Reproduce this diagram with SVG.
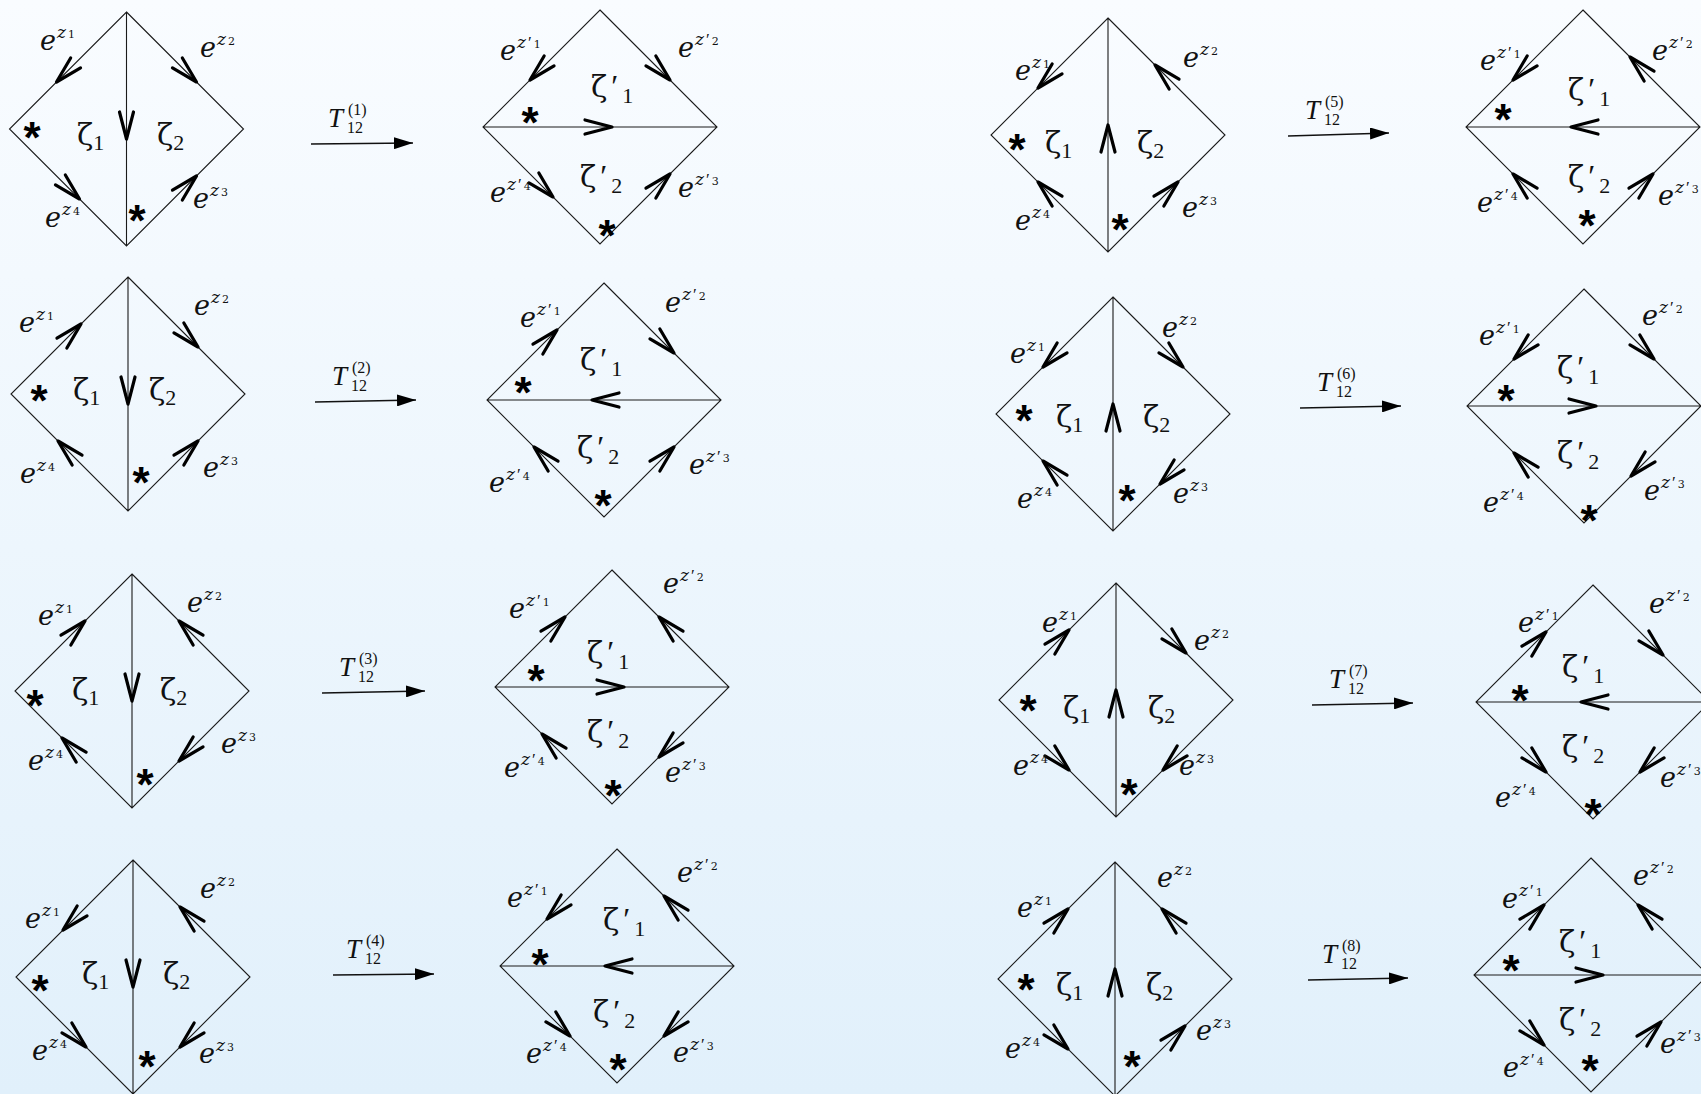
<svg xmlns="http://www.w3.org/2000/svg" xmlns:xlink="http://www.w3.org/1999/xlink" width="1701" height="1094" viewBox="0 0 1701 1094">
<style>
.edge{fill:none;stroke:#1a1a1a;stroke-width:1.1}
.ch{fill:none;stroke:#000;stroke-width:3.2;stroke-linejoin:round;stroke-linecap:round}
.conn{stroke:#111;stroke-width:1.4;fill:none}
.e{font-family:"DejaVu Serif",serif;font-style:italic;font-size:27px;fill:#111}
.zs{font-size:17px}
.ds{font-size:11px;font-style:normal}
.pp{font-family:"Liberation Serif",serif;font-style:normal;font-size:17px}
.zeta{font-family:"DejaVu Serif",serif;font-size:30px;fill:#111}
.zsub{font-family:"Liberation Serif",serif;font-size:22px}
.pr{font-family:"Liberation Serif",serif;font-size:32px}
.ast{font-family:"Liberation Sans",sans-serif;font-weight:bold;font-size:44px;text-anchor:middle;fill:#000}
.T{font-family:"Liberation Serif",serif;font-style:italic;font-size:27px;fill:#111}
.Tn{font-family:"Liberation Serif",serif;font-style:normal;font-size:16px}
</style>
<defs>
<linearGradient id="bg" x1="0" y1="0" x2="0" y2="1">
<stop offset="0" stop-color="#f9fcff"/>
<stop offset="1" stop-color="#e1f0fb"/>
</linearGradient>
<marker id="ah" markerUnits="userSpaceOnUse" markerWidth="20" markerHeight="12" refX="19" refY="6" orient="auto">
<path d="M0,0 L19,6 L0,12 Z" fill="#000"/>
</marker>
<path id="src" class="edge" d="M0,-117 L117,0 L0,117 L-117,0 Z M0,-117 V117"/>
<path id="res" class="edge" d="M0,-117 L117,0 L0,117 L-117,0 Z M-117,0 H117"/>
<path id="ch" class="ch" d="M-27,-7 L0,0 L-27,7"/>
</defs>
<rect x="0" y="0" width="1701" height="1094" fill="url(#bg)"/>

<!-- A1 -->
<g id="A1">
<g transform="translate(126.5,129)">
<use href="#src"/>
<use href="#ch" transform="translate(-70,-47) rotate(135)"/>
<use href="#ch" transform="translate(70,-47) rotate(45)"/>
<use href="#ch" transform="translate(-47,70) rotate(45)"/>
<use href="#ch" transform="translate(70,47) rotate(-45)"/>
<use href="#ch" transform="translate(0,10) rotate(90)"/>
</g>
<text class="e" x="40" y="50">e<tspan class="zs" dx="1" dy="-12">z</tspan><tspan class="ds" dx="2">1</tspan></text>
<text class="e" x="200" y="57">e<tspan class="zs" dx="1" dy="-12">z</tspan><tspan class="ds" dx="2">2</tspan></text>
<text class="e" x="45" y="227">e<tspan class="zs" dx="1" dy="-12">z</tspan><tspan class="ds" dx="2">4</tspan></text>
<text class="e" x="193" y="208">e<tspan class="zs" dx="1" dy="-12">z</tspan><tspan class="ds" dx="2">3</tspan></text>
<text class="zeta" x="77" y="145">ζ<tspan class="zsub" dy="5">1</tspan></text>
<text class="zeta" x="157" y="145">ζ<tspan class="zsub" dy="5">2</tspan></text>
<text class="ast" x="32" y="153">*</text>
<text class="ast" x="137" y="236">*</text>
</g>

<!-- B1 -->
<g id="B1">
<g transform="translate(600,127)">
<use href="#res"/>
<use href="#ch" transform="translate(-70,-47) rotate(135)"/>
<use href="#ch" transform="translate(70,-47) rotate(45)"/>
<use href="#ch" transform="translate(-47,70) rotate(45)"/>
<use href="#ch" transform="translate(70,47) rotate(-45)"/>
<use href="#ch" transform="translate(12,0)"/>
</g>
<text class="e" x="500" y="60">e<tspan class="zs" dx="1" dy="-12">z</tspan><tspan class="pp" dx="2">′</tspan><tspan class="ds" dx="2">1</tspan></text>
<text class="e" x="678" y="57">e<tspan class="zs" dx="1" dy="-12">z</tspan><tspan class="pp" dx="2">′</tspan><tspan class="ds" dx="2">2</tspan></text>
<text class="e" x="490" y="202">e<tspan class="zs" dx="1" dy="-12">z</tspan><tspan class="pp" dx="2">′</tspan><tspan class="ds" dx="2">4</tspan></text>
<text class="e" x="678" y="197">e<tspan class="zs" dx="1" dy="-12">z</tspan><tspan class="pp" dx="2">′</tspan><tspan class="ds" dx="2">3</tspan></text>
<text class="zeta" x="591" y="97">ζ<tspan class="pr" dx="4">′</tspan><tspan class="zsub" dx="4" dy="6">1</tspan></text>
<text class="zeta" x="580" y="187">ζ<tspan class="pr" dx="4">′</tspan><tspan class="zsub" dx="4" dy="6">2</tspan></text>
<text class="ast" x="530" y="138">*</text>
<text class="ast" x="607" y="251">*</text>
</g>

<!-- A2 -->
<g id="A2">
<g transform="translate(128,394)">
<use href="#src"/>
<use href="#ch" transform="translate(-47,-70) rotate(-45)"/>
<use href="#ch" transform="translate(70,-47) rotate(45)"/>
<use href="#ch" transform="translate(-70,47) rotate(-135)"/>
<use href="#ch" transform="translate(70,47) rotate(-45)"/>
<use href="#ch" transform="translate(0,10) rotate(90)"/>
</g>
<text class="e" x="19" y="332">e<tspan class="zs" dx="1" dy="-12">z</tspan><tspan class="ds" dx="2">1</tspan></text>
<text class="e" x="194" y="315">e<tspan class="zs" dx="1" dy="-12">z</tspan><tspan class="ds" dx="2">2</tspan></text>
<text class="e" x="20" y="483">e<tspan class="zs" dx="1" dy="-12">z</tspan><tspan class="ds" dx="2">4</tspan></text>
<text class="e" x="203" y="477">e<tspan class="zs" dx="1" dy="-12">z</tspan><tspan class="ds" dx="2">3</tspan></text>
<text class="zeta" x="73" y="400">ζ<tspan class="zsub" dy="5">1</tspan></text>
<text class="zeta" x="149" y="400">ζ<tspan class="zsub" dy="5">2</tspan></text>
<text class="ast" x="39" y="416">*</text>
<text class="ast" x="141" y="498">*</text>
</g>

<!-- B2 -->
<g id="B2">
<g transform="translate(604,400)">
<use href="#res"/>
<use href="#ch" transform="translate(-47,-70) rotate(-45)"/>
<use href="#ch" transform="translate(70,-47) rotate(45)"/>
<use href="#ch" transform="translate(-70,47) rotate(-135)"/>
<use href="#ch" transform="translate(70,47) rotate(-45)"/>
<use href="#ch" transform="translate(-12,0) rotate(180)"/>
</g>
<text class="e" x="520" y="327">e<tspan class="zs" dx="1" dy="-12">z</tspan><tspan class="pp" dx="2">′</tspan><tspan class="ds" dx="2">1</tspan></text>
<text class="e" x="665" y="312">e<tspan class="zs" dx="1" dy="-12">z</tspan><tspan class="pp" dx="2">′</tspan><tspan class="ds" dx="2">2</tspan></text>
<text class="e" x="489" y="492">e<tspan class="zs" dx="1" dy="-12">z</tspan><tspan class="pp" dx="2">′</tspan><tspan class="ds" dx="2">4</tspan></text>
<text class="e" x="689" y="474">e<tspan class="zs" dx="1" dy="-12">z</tspan><tspan class="pp" dx="2">′</tspan><tspan class="ds" dx="2">3</tspan></text>
<text class="zeta" x="580" y="370">ζ<tspan class="pr" dx="4">′</tspan><tspan class="zsub" dx="4" dy="6">1</tspan></text>
<text class="zeta" x="577" y="458">ζ<tspan class="pr" dx="4">′</tspan><tspan class="zsub" dx="4" dy="6">2</tspan></text>
<text class="ast" x="523" y="408">*</text>
<text class="ast" x="603" y="521">*</text>
</g>

<!-- A3 -->
<g id="A3">
<g transform="translate(132,691)">
<use href="#src"/>
<use href="#ch" transform="translate(-47,-70) rotate(-45)"/>
<use href="#ch" transform="translate(47,-70) rotate(-135)"/>
<use href="#ch" transform="translate(-70,47) rotate(-135)"/>
<use href="#ch" transform="translate(47,70) rotate(135)"/>
<use href="#ch" transform="translate(0,10) rotate(90)"/>
</g>
<text class="e" x="38" y="625">e<tspan class="zs" dx="1" dy="-12">z</tspan><tspan class="ds" dx="2">1</tspan></text>
<text class="e" x="187" y="612">e<tspan class="zs" dx="1" dy="-12">z</tspan><tspan class="ds" dx="2">2</tspan></text>
<text class="e" x="28" y="770">e<tspan class="zs" dx="1" dy="-12">z</tspan><tspan class="ds" dx="2">4</tspan></text>
<text class="e" x="221" y="753">e<tspan class="zs" dx="1" dy="-12">z</tspan><tspan class="ds" dx="2">3</tspan></text>
<text class="zeta" x="72" y="700">ζ<tspan class="zsub" dy="5">1</tspan></text>
<text class="zeta" x="160" y="700">ζ<tspan class="zsub" dy="5">2</tspan></text>
<text class="ast" x="35" y="721">*</text>
<text class="ast" x="145" y="800">*</text>
</g>

<!-- B3 -->
<g id="B3">
<g transform="translate(612,687)">
<use href="#res"/>
<use href="#ch" transform="translate(-47,-70) rotate(-45)"/>
<use href="#ch" transform="translate(47,-70) rotate(-135)"/>
<use href="#ch" transform="translate(-70,47) rotate(-135)"/>
<use href="#ch" transform="translate(47,70) rotate(135)"/>
<use href="#ch" transform="translate(12,0)"/>
</g>
<text class="e" x="509" y="618">e<tspan class="zs" dx="1" dy="-12">z</tspan><tspan class="pp" dx="2">′</tspan><tspan class="ds" dx="2">1</tspan></text>
<text class="e" x="663" y="593">e<tspan class="zs" dx="1" dy="-12">z</tspan><tspan class="pp" dx="2">′</tspan><tspan class="ds" dx="2">2</tspan></text>
<text class="e" x="504" y="777">e<tspan class="zs" dx="1" dy="-12">z</tspan><tspan class="pp" dx="2">′</tspan><tspan class="ds" dx="2">4</tspan></text>
<text class="e" x="665" y="782">e<tspan class="zs" dx="1" dy="-12">z</tspan><tspan class="pp" dx="2">′</tspan><tspan class="ds" dx="2">3</tspan></text>
<text class="zeta" x="587" y="663">ζ<tspan class="pr" dx="4">′</tspan><tspan class="zsub" dx="4" dy="6">1</tspan></text>
<text class="zeta" x="587" y="742">ζ<tspan class="pr" dx="4">′</tspan><tspan class="zsub" dx="4" dy="6">2</tspan></text>
<text class="ast" x="536" y="696">*</text>
<text class="ast" x="613" y="811">*</text>
</g>

<!-- A4 -->
<g id="A4">
<g transform="translate(133,977)">
<use href="#src"/>
<use href="#ch" transform="translate(-70,-47) rotate(135)"/>
<use href="#ch" transform="translate(47,-70) rotate(-135)"/>
<use href="#ch" transform="translate(-47,70) rotate(45)"/>
<use href="#ch" transform="translate(47,70) rotate(135)"/>
<use href="#ch" transform="translate(0,10) rotate(90)"/>
</g>
<text class="e" x="25" y="928">e<tspan class="zs" dx="1" dy="-12">z</tspan><tspan class="ds" dx="2">1</tspan></text>
<text class="e" x="200" y="898">e<tspan class="zs" dx="1" dy="-12">z</tspan><tspan class="ds" dx="2">2</tspan></text>
<text class="e" x="32" y="1060">e<tspan class="zs" dx="1" dy="-12">z</tspan><tspan class="ds" dx="2">4</tspan></text>
<text class="e" x="199" y="1063">e<tspan class="zs" dx="1" dy="-12">z</tspan><tspan class="ds" dx="2">3</tspan></text>
<text class="zeta" x="82" y="984">ζ<tspan class="zsub" dy="5">1</tspan></text>
<text class="zeta" x="163" y="984">ζ<tspan class="zsub" dy="5">2</tspan></text>
<text class="ast" x="40" y="1006">*</text>
<text class="ast" x="147" y="1082">*</text>
</g>

<!-- B4 -->
<g id="B4">
<g transform="translate(617,966)">
<use href="#res"/>
<use href="#ch" transform="translate(-70,-47) rotate(135)"/>
<use href="#ch" transform="translate(47,-70) rotate(-135)"/>
<use href="#ch" transform="translate(-47,70) rotate(45)"/>
<use href="#ch" transform="translate(47,70) rotate(135)"/>
<use href="#ch" transform="translate(-12,0) rotate(180)"/>
</g>
<text class="e" x="507" y="907">e<tspan class="zs" dx="1" dy="-12">z</tspan><tspan class="pp" dx="2">′</tspan><tspan class="ds" dx="2">1</tspan></text>
<text class="e" x="677" y="882">e<tspan class="zs" dx="1" dy="-12">z</tspan><tspan class="pp" dx="2">′</tspan><tspan class="ds" dx="2">2</tspan></text>
<text class="e" x="526" y="1063">e<tspan class="zs" dx="1" dy="-12">z</tspan><tspan class="pp" dx="2">′</tspan><tspan class="ds" dx="2">4</tspan></text>
<text class="e" x="673" y="1062">e<tspan class="zs" dx="1" dy="-12">z</tspan><tspan class="pp" dx="2">′</tspan><tspan class="ds" dx="2">3</tspan></text>
<text class="zeta" x="603" y="930">ζ<tspan class="pr" dx="4">′</tspan><tspan class="zsub" dx="4" dy="6">1</tspan></text>
<text class="zeta" x="593" y="1022">ζ<tspan class="pr" dx="4">′</tspan><tspan class="zsub" dx="4" dy="6">2</tspan></text>
<text class="ast" x="540" y="980">*</text>
<text class="ast" x="618" y="1085">*</text>
</g>

<!-- C1 -->
<g id="C1">
<g transform="translate(1108,135)">
<use href="#src"/>
<use href="#ch" transform="translate(-70,-47) rotate(135)"/>
<use href="#ch" transform="translate(47,-70) rotate(-135)"/>
<use href="#ch" transform="translate(-70,47) rotate(-135)"/>
<use href="#ch" transform="translate(70,47) rotate(-45)"/>
<use href="#ch" transform="translate(0,-10) rotate(-90)"/>
</g>
<text class="e" x="1015" y="80">e<tspan class="zs" dx="1" dy="-12">z</tspan><tspan class="ds" dx="2">1</tspan></text>
<text class="e" x="1183" y="67">e<tspan class="zs" dx="1" dy="-12">z</tspan><tspan class="ds" dx="2">2</tspan></text>
<text class="e" x="1015" y="230">e<tspan class="zs" dx="1" dy="-12">z</tspan><tspan class="ds" dx="2">4</tspan></text>
<text class="e" x="1182" y="217">e<tspan class="zs" dx="1" dy="-12">z</tspan><tspan class="ds" dx="2">3</tspan></text>
<text class="zeta" x="1045" y="153">ζ<tspan class="zsub" dy="5">1</tspan></text>
<text class="zeta" x="1137" y="153">ζ<tspan class="zsub" dy="5">2</tspan></text>
<text class="ast" x="1017" y="165">*</text>
<text class="ast" x="1120" y="245">*</text>
</g>

<!-- D1 -->
<g id="D1">
<g transform="translate(1583,127)">
<use href="#res"/>
<use href="#ch" transform="translate(-70,-47) rotate(135)"/>
<use href="#ch" transform="translate(47,-70) rotate(-135)"/>
<use href="#ch" transform="translate(-70,47) rotate(-135)"/>
<use href="#ch" transform="translate(70,47) rotate(-45)"/>
<use href="#ch" transform="translate(-12,0) rotate(180)"/>
</g>
<text class="e" x="1480" y="70">e<tspan class="zs" dx="1" dy="-12">z</tspan><tspan class="pp" dx="2">′</tspan><tspan class="ds" dx="2">1</tspan></text>
<text class="e" x="1652" y="60">e<tspan class="zs" dx="1" dy="-12">z</tspan><tspan class="pp" dx="2">′</tspan><tspan class="ds" dx="2">2</tspan></text>
<text class="e" x="1477" y="212">e<tspan class="zs" dx="1" dy="-12">z</tspan><tspan class="pp" dx="2">′</tspan><tspan class="ds" dx="2">4</tspan></text>
<text class="e" x="1658" y="205">e<tspan class="zs" dx="1" dy="-12">z</tspan><tspan class="pp" dx="2">′</tspan><tspan class="ds" dx="2">3</tspan></text>
<text class="zeta" x="1568" y="100">ζ<tspan class="pr" dx="4">′</tspan><tspan class="zsub" dx="4" dy="6">1</tspan></text>
<text class="zeta" x="1568" y="187">ζ<tspan class="pr" dx="4">′</tspan><tspan class="zsub" dx="4" dy="6">2</tspan></text>
<text class="ast" x="1503" y="135">*</text>
<text class="ast" x="1587" y="241">*</text>
</g>

<!-- C2 -->
<g id="C2">
<g transform="translate(1113,414)">
<use href="#src"/>
<use href="#ch" transform="translate(-70,-47) rotate(135)"/>
<use href="#ch" transform="translate(70,-47) rotate(45)"/>
<use href="#ch" transform="translate(-70,47) rotate(-135)"/>
<use href="#ch" transform="translate(47,70) rotate(135)"/>
<use href="#ch" transform="translate(0,-10) rotate(-90)"/>
</g>
<text class="e" x="1010" y="363">e<tspan class="zs" dx="1" dy="-12">z</tspan><tspan class="ds" dx="2">1</tspan></text>
<text class="e" x="1162" y="337">e<tspan class="zs" dx="1" dy="-12">z</tspan><tspan class="ds" dx="2">2</tspan></text>
<text class="e" x="1017" y="508">e<tspan class="zs" dx="1" dy="-12">z</tspan><tspan class="ds" dx="2">4</tspan></text>
<text class="e" x="1173" y="503">e<tspan class="zs" dx="1" dy="-12">z</tspan><tspan class="ds" dx="2">3</tspan></text>
<text class="zeta" x="1056" y="427">ζ<tspan class="zsub" dy="5">1</tspan></text>
<text class="zeta" x="1143" y="427">ζ<tspan class="zsub" dy="5">2</tspan></text>
<text class="ast" x="1024" y="436">*</text>
<text class="ast" x="1127" y="516">*</text>
</g>

<!-- D2 -->
<g id="D2">
<g transform="translate(1584,406)">
<use href="#res"/>
<use href="#ch" transform="translate(-70,-47) rotate(135)"/>
<use href="#ch" transform="translate(70,-47) rotate(45)"/>
<use href="#ch" transform="translate(-70,47) rotate(-135)"/>
<use href="#ch" transform="translate(47,70) rotate(135)"/>
<use href="#ch" transform="translate(12,0)"/>
</g>
<text class="e" x="1479" y="345">e<tspan class="zs" dx="1" dy="-12">z</tspan><tspan class="pp" dx="2">′</tspan><tspan class="ds" dx="2">1</tspan></text>
<text class="e" x="1642" y="325">e<tspan class="zs" dx="1" dy="-12">z</tspan><tspan class="pp" dx="2">′</tspan><tspan class="ds" dx="2">2</tspan></text>
<text class="e" x="1483" y="512">e<tspan class="zs" dx="1" dy="-12">z</tspan><tspan class="pp" dx="2">′</tspan><tspan class="ds" dx="2">4</tspan></text>
<text class="e" x="1644" y="500">e<tspan class="zs" dx="1" dy="-12">z</tspan><tspan class="pp" dx="2">′</tspan><tspan class="ds" dx="2">3</tspan></text>
<text class="zeta" x="1557" y="378">ζ<tspan class="pr" dx="4">′</tspan><tspan class="zsub" dx="4" dy="6">1</tspan></text>
<text class="zeta" x="1557" y="463">ζ<tspan class="pr" dx="4">′</tspan><tspan class="zsub" dx="4" dy="6">2</tspan></text>
<text class="ast" x="1506" y="416">*</text>
<text class="ast" x="1589" y="536">*</text>
</g>

<!-- C3 -->
<g id="C3">
<g transform="translate(1116,700)">
<use href="#src"/>
<use href="#ch" transform="translate(-47,-70) rotate(-45)"/>
<use href="#ch" transform="translate(70,-47) rotate(45)"/>
<use href="#ch" transform="translate(-47,70) rotate(45)"/>
<use href="#ch" transform="translate(47,70) rotate(135)"/>
<use href="#ch" transform="translate(0,-10) rotate(-90)"/>
</g>
<text class="e" x="1042" y="632">e<tspan class="zs" dx="1" dy="-12">z</tspan><tspan class="ds" dx="2">1</tspan></text>
<text class="e" x="1194" y="650">e<tspan class="zs" dx="1" dy="-12">z</tspan><tspan class="ds" dx="2">2</tspan></text>
<text class="e" x="1013" y="775">e<tspan class="zs" dx="1" dy="-12">z</tspan><tspan class="ds" dx="2">4</tspan></text>
<text class="e" x="1179" y="775">e<tspan class="zs" dx="1" dy="-12">z</tspan><tspan class="ds" dx="2">3</tspan></text>
<text class="zeta" x="1063" y="718">ζ<tspan class="zsub" dy="5">1</tspan></text>
<text class="zeta" x="1148" y="718">ζ<tspan class="zsub" dy="5">2</tspan></text>
<text class="ast" x="1028" y="726">*</text>
<text class="ast" x="1129" y="810">*</text>
</g>

<!-- D3 -->
<g id="D3">
<g transform="translate(1593,702)">
<use href="#res"/>
<use href="#ch" transform="translate(-47,-70) rotate(-45)"/>
<use href="#ch" transform="translate(70,-47) rotate(45)"/>
<use href="#ch" transform="translate(-47,70) rotate(45)"/>
<use href="#ch" transform="translate(47,70) rotate(135)"/>
<use href="#ch" transform="translate(-12,0) rotate(180)"/>
</g>
<text class="e" x="1518" y="632">e<tspan class="zs" dx="1" dy="-12">z</tspan><tspan class="pp" dx="2">′</tspan><tspan class="ds" dx="2">1</tspan></text>
<text class="e" x="1649" y="613">e<tspan class="zs" dx="1" dy="-12">z</tspan><tspan class="pp" dx="2">′</tspan><tspan class="ds" dx="2">2</tspan></text>
<text class="e" x="1495" y="807">e<tspan class="zs" dx="1" dy="-12">z</tspan><tspan class="pp" dx="2">′</tspan><tspan class="ds" dx="2">4</tspan></text>
<text class="e" x="1660" y="787">e<tspan class="zs" dx="1" dy="-12">z</tspan><tspan class="pp" dx="2">′</tspan><tspan class="ds" dx="2">3</tspan></text>
<text class="zeta" x="1562" y="677">ζ<tspan class="pr" dx="4">′</tspan><tspan class="zsub" dx="4" dy="6">1</tspan></text>
<text class="zeta" x="1562" y="757">ζ<tspan class="pr" dx="4">′</tspan><tspan class="zsub" dx="4" dy="6">2</tspan></text>
<text class="ast" x="1520" y="716">*</text>
<text class="ast" x="1593" y="830">*</text>
</g>

<!-- C4 -->
<g id="C4">
<g transform="translate(1115,979)">
<use href="#src"/>
<use href="#ch" transform="translate(-47,-70) rotate(-45)"/>
<use href="#ch" transform="translate(47,-70) rotate(-135)"/>
<use href="#ch" transform="translate(-47,70) rotate(45)"/>
<use href="#ch" transform="translate(70,47) rotate(-45)"/>
<use href="#ch" transform="translate(0,-10) rotate(-90)"/>
</g>
<text class="e" x="1017" y="917">e<tspan class="zs" dx="1" dy="-12">z</tspan><tspan class="ds" dx="2">1</tspan></text>
<text class="e" x="1157" y="887">e<tspan class="zs" dx="1" dy="-12">z</tspan><tspan class="ds" dx="2">2</tspan></text>
<text class="e" x="1005" y="1058">e<tspan class="zs" dx="1" dy="-12">z</tspan><tspan class="ds" dx="2">4</tspan></text>
<text class="e" x="1196" y="1040">e<tspan class="zs" dx="1" dy="-12">z</tspan><tspan class="ds" dx="2">3</tspan></text>
<text class="zeta" x="1056" y="995">ζ<tspan class="zsub" dy="5">1</tspan></text>
<text class="zeta" x="1146" y="995">ζ<tspan class="zsub" dy="5">2</tspan></text>
<text class="ast" x="1026" y="1005">*</text>
<text class="ast" x="1132" y="1082">*</text>
</g>

<!-- D4 -->
<g id="D4">
<g transform="translate(1591,975)">
<use href="#res"/>
<use href="#ch" transform="translate(-47,-70) rotate(-45)"/>
<use href="#ch" transform="translate(47,-70) rotate(-135)"/>
<use href="#ch" transform="translate(-47,70) rotate(45)"/>
<use href="#ch" transform="translate(70,47) rotate(-45)"/>
<use href="#ch" transform="translate(12,0)"/>
</g>
<text class="e" x="1502" y="908">e<tspan class="zs" dx="1" dy="-12">z</tspan><tspan class="pp" dx="2">′</tspan><tspan class="ds" dx="2">1</tspan></text>
<text class="e" x="1633" y="885">e<tspan class="zs" dx="1" dy="-12">z</tspan><tspan class="pp" dx="2">′</tspan><tspan class="ds" dx="2">2</tspan></text>
<text class="e" x="1503" y="1077">e<tspan class="zs" dx="1" dy="-12">z</tspan><tspan class="pp" dx="2">′</tspan><tspan class="ds" dx="2">4</tspan></text>
<text class="e" x="1660" y="1053">e<tspan class="zs" dx="1" dy="-12">z</tspan><tspan class="pp" dx="2">′</tspan><tspan class="ds" dx="2">3</tspan></text>
<text class="zeta" x="1559" y="952">ζ<tspan class="pr" dx="4">′</tspan><tspan class="zsub" dx="4" dy="6">1</tspan></text>
<text class="zeta" x="1559" y="1030">ζ<tspan class="pr" dx="4">′</tspan><tspan class="zsub" dx="4" dy="6">2</tspan></text>
<text class="ast" x="1590" y="1086">*</text>
<text class="ast" x="1511" y="986">*</text>
</g>

<!-- connectors: transformations -->
<g id="connectors">
<line class="conn" x1="311" y1="144" x2="413" y2="143" marker-end="url(#ah)"/>
<text class="T" x="328" y="127">T<tspan class="Tn" x="348" y="115">(1)</tspan><tspan class="Tn" x="347" y="133">12</tspan></text>
<line class="conn" x1="315" y1="402" x2="416" y2="400" marker-end="url(#ah)"/>
<text class="T" x="332" y="385">T<tspan class="Tn" x="352" y="373">(2)</tspan><tspan class="Tn" x="351" y="391">12</tspan></text>
<line class="conn" x1="322" y1="693" x2="425" y2="691" marker-end="url(#ah)"/>
<text class="T" x="339" y="676">T<tspan class="Tn" x="359" y="664">(3)</tspan><tspan class="Tn" x="358" y="682">12</tspan></text>
<line class="conn" x1="333" y1="975" x2="434" y2="974" marker-end="url(#ah)"/>
<text class="T" x="346" y="958">T<tspan class="Tn" x="366" y="946">(4)</tspan><tspan class="Tn" x="365" y="964">12</tspan></text>
<line class="conn" x1="1288" y1="136" x2="1389" y2="133" marker-end="url(#ah)"/>
<text class="T" x="1305" y="119">T<tspan class="Tn" x="1325" y="107">(5)</tspan><tspan class="Tn" x="1324" y="125">12</tspan></text>
<line class="conn" x1="1300" y1="408" x2="1401" y2="406" marker-end="url(#ah)"/>
<text class="T" x="1317" y="391">T<tspan class="Tn" x="1337" y="379">(6)</tspan><tspan class="Tn" x="1336" y="397">12</tspan></text>
<line class="conn" x1="1312" y1="705" x2="1413" y2="703" marker-end="url(#ah)"/>
<text class="T" x="1329" y="688">T<tspan class="Tn" x="1349" y="676">(7)</tspan><tspan class="Tn" x="1348" y="694">12</tspan></text>
<line class="conn" x1="1308" y1="980" x2="1408" y2="978" marker-end="url(#ah)"/>
<text class="T" x="1322" y="963">T<tspan class="Tn" x="1342" y="951">(8)</tspan><tspan class="Tn" x="1341" y="969">12</tspan></text>
</g>
</svg>
